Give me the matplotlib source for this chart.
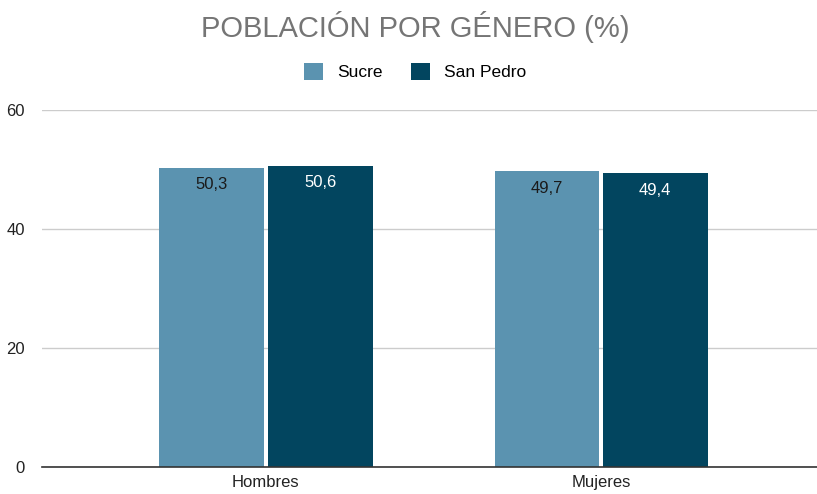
import matplotlib
matplotlib.use('Agg')
import matplotlib.pyplot as plt
import numpy as np

plt.rcParams['font.family'] = ['Liberation Sans', 'DejaVu Sans']

# data
categories = ['Hombres', 'Mujeres']
series_names = ['Sucre', 'San Pedro']
sucre = [50.3, 49.7]
san_pedro = [50.6, 49.4]
labels_sucre = ['50,3', '49,7']
labels_sp = ['50,6', '49,4']

c_sucre = '#5b93b0'
c_sp = '#02455f'

fig = plt.figure(figsize=(8.17, 4.94), dpi=100)
ax = fig.add_axes([0.051, 0.0547, 0.949, 0.7226])

x = np.arange(len(categories))
w = 0.313
b1 = ax.bar(x - w / 2 - 0.005, sucre, w, color=c_sucre, label=series_names[0])
b2 = ax.bar(x + w / 2 + 0.005, san_pedro, w, color=c_sp, label=series_names[1])

for rect, lab in zip(b1, labels_sucre):
    ax.text(rect.get_x() + rect.get_width() / 2, rect.get_height() - 1.6, lab,
            ha='center', va='top', fontsize=12, color='#1a1a1a')
for rect, lab in zip(b2, labels_sp):
    ax.text(rect.get_x() + rect.get_width() / 2, rect.get_height() - 1.6, lab,
            ha='center', va='top', fontsize=12, color='white')

ax.set_xlim(-0.669, 1.644)
ax.set_ylim(0, 60)
ax.set_yticks([0, 20, 40, 60])
ax.set_xticks(x)
ax.set_xticklabels(categories)
ax.tick_params(axis='both', length=0, labelsize=12, colors='#222222')
ax.tick_params(axis='y', pad=12)
ax.tick_params(axis='x', pad=6)
ax.grid(axis='y', color='#cccccc', linewidth=1)
ax.set_axisbelow(True)
for s in ['top', 'right', 'left']:
    ax.spines[s].set_visible(False)
ax.spines['bottom'].set_color('#333333')
ax.spines['bottom'].set_linewidth(1.2)

fig.text(0.508, 0.945, 'POBLACIÓN POR GÉNERO (%)', ha='center', va='center',
         fontsize=21, color='#757575')
fig.legend(handles=[b1, b2], labels=series_names, loc='center',
           bbox_to_anchor=(0.508, 0.855), ncol=2, frameon=False,
           fontsize=12.5, handlelength=1.1, handleheight=1.1,
           columnspacing=1.6, handletextpad=0.8)

fig.savefig('out.png', dpi=100)
